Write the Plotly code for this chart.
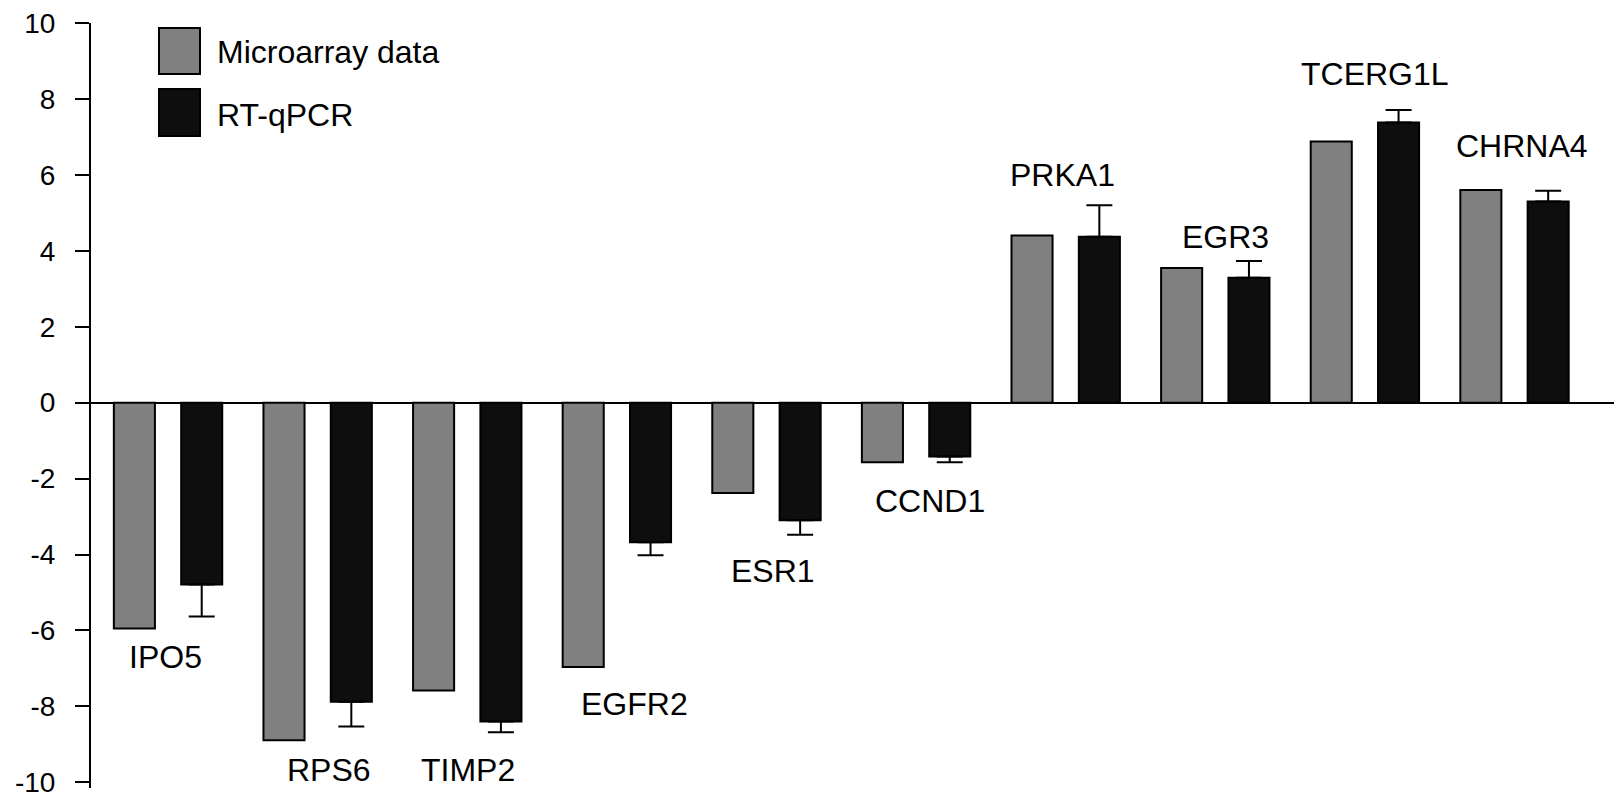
import plotly.graph_objects as go

# ---- data ----
genes = ["IPO5", "RPS6", "TIMP2", "EGFR2", "ESR1", "CCND1",
         "PRKA1", "EGR3", "TCERG1L", "CHRNA4"]
microarray = [-5.95, -8.89, -7.58, -6.96, -2.38, -1.57, 4.40, 3.55, 6.88, 5.60]
rtqpcr = [-4.79, -7.88, -8.40, -3.68, -3.10, -1.42, 4.37, 3.29, 7.38, 5.30]
rtqpcr_err = [0.84, 0.65, 0.28, 0.34, 0.38, 0.15, 0.83, 0.44, 0.33, 0.28]
y_ticks = [-10, -8, -6, -4, -2, 0, 2, 4, 6, 8, 10]
series_names = ["Microarray data", "RT-qPCR"]

# ---- layout constants (pixels) ----
W, H = 1614, 797
M_L, M_R, M_T, M_B = 91, 0, 23, 9
PLOT_W = W - M_L - M_R
PLOT_H = H - M_T - M_B
FONT = "Liberation Sans, Arial, sans-serif"
GRAY = "#808080"
BLACK = "#0e0e0e"

# error bars point away from zero
err_plus = [e if v > 0 else 0 for v, e in zip(rtqpcr, rtqpcr_err)]
err_minus = [e if v < 0 else 0 for v, e in zip(rtqpcr, rtqpcr_err)]

fig = go.Figure()
fig.add_trace(go.Bar(
    x=genes, y=microarray, name=series_names[0],
    marker=dict(color=GRAY, line=dict(color="black", width=2)),
))
fig.add_trace(go.Bar(
    x=genes, y=rtqpcr, name=series_names[1],
    marker=dict(color=BLACK, line=dict(color="black", width=2)),
    error_y=dict(type="data", symmetric=False, array=err_plus,
                 arrayminus=err_minus, color="black", thickness=2, width=13),
))

# gene labels: (x shift px, y in data units)
label_pos = [(-3, -6.70), (11, -9.68), (1, -9.68), (18, -7.93), (7, -4.43),
             (14, -2.58), (-3, 6.00), (10, 4.37), (10, 8.66), (7, 6.76)]
annotations = []
for g, (dx, yy) in zip(genes, label_pos):
    annotations.append(dict(x=g, y=yy, xref="x", yref="y", text=g,
                            showarrow=False, xshift=dx,
                            font=dict(family=FONT, size=32, color="black"),
                            xanchor="center", yanchor="middle"))


def px_x(p):
    return (p - M_L) / PLOT_W


def px_y(p):
    return (H - M_B - p) / PLOT_H


# hand-built legend (large swatches as in the reference)
shapes = []
legend_rows = [(series_names[0], GRAY, 28, 74, 52),
               (series_names[1], BLACK, 89, 136, 115)]
for name, col, y0, y1, yc in legend_rows:
    shapes.append(dict(type="rect", xref="paper", yref="paper",
                       x0=px_x(159), x1=px_x(200), y0=px_y(y1), y1=px_y(y0),
                       fillcolor=col, line=dict(color="black", width=2)))
    annotations.append(dict(x=px_x(215), y=px_y(yc), xref="paper", yref="paper",
                            text=name, showarrow=False, xanchor="left",
                            yanchor="middle",
                            font=dict(family=FONT, size=32, color="black")))

fig.update_layout(
    width=W, height=H, autosize=False,
    margin=dict(l=M_L, r=M_R, t=M_T, b=M_B, pad=0),
    paper_bgcolor="white", plot_bgcolor="white",
    barmode="group", bargap=0.1, bargroupgap=0.39,
    showlegend=False,
    font=dict(family=FONT, size=28, color="black"),
    shapes=shapes, annotations=annotations,
)
fig.update_xaxes(range=[-0.515, 9.665], showticklabels=False, showgrid=False,
                 showline=False, ticks="", zeroline=False)
fig.update_yaxes(range=[-10.15, 10.0], tickvals=y_ticks,
                 ticktext=[str(v) for v in y_ticks],
                 showgrid=False, showline=True, linecolor="black", linewidth=2,
                 ticks="outside", ticklen=14, tickwidth=2, tickcolor="black",
                 ticklabelstandoff=14, ticklabeloverflow="allow",
                 zeroline=True, zerolinecolor="black", zerolinewidth=2,
                 tickfont=dict(family=FONT, size=28, color="black"))

fig.write_html("out.html",
               config={"displayModeBar": False},
               post_script="document.body.style.margin='0';"
                           "document.body.style.overflow='hidden';")
